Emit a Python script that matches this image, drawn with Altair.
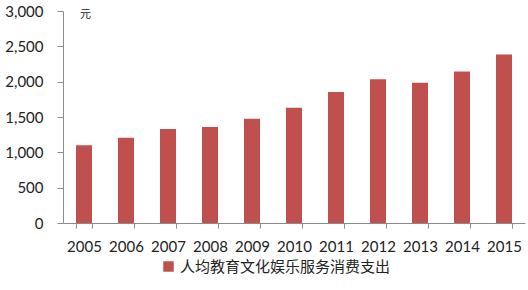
import altair as alt
import pandas as pd

years = ["2005", "2006", "2007", "2008", "2009", "2010", "2011", "2012", "2013", "2014", "2015"]
values = [1100, 1205, 1330, 1360, 1475, 1630, 1855, 2035, 1985, 2145, 2385]
series_name = "人均教育文化娱乐服务消费支出"

df = pd.DataFrame({"year": years, "value": values, "series": [series_name] * len(years)})

chart = alt.Chart(df).mark_bar(size=16, color="#C0504D").encode(
    x=alt.X("year:N", sort=years,
            scale=alt.Scale(paddingInner=0.62, paddingOuter=0.31),
            axis=alt.Axis(title=None, labelAngle=0, tickBand="extent", tickSize=5,
                          labelPadding=11, labelFont="Lato", labelFontSize=15,
                          labelColor="#222222", domainColor="#8c8c8c", tickColor="#8c8c8c")),
    y=alt.Y("value:Q", scale=alt.Scale(domain=[0, 3000]),
            axis=alt.Axis(values=[0, 500, 1000, 1500, 2000, 2500, 3000], format=",.0f",
                          grid=False, tickSize=6, labelPadding=14, labelFont="Lato",
                          labelFontSize=15, labelColor="#222222", domainColor="#8c8c8c",
                          tickColor="#8c8c8c", title="元", titleAngle=0, titleX=22, titleY=8,
                          titleFont="Noto Sans CJK SC", titleFontSize=11, titleFontWeight="normal",
                          titleColor="#222222", titleAlign="center")),
    color=alt.Color("series:N", scale=alt.Scale(range=["#C0504D"]),
                    legend=alt.Legend(title=None, orient="none", legendX=98, legendY=248,
                                      symbolType="square", symbolSize=110, symbolStrokeWidth=0,
                                      labelFont="Noto Sans CJK SC", labelFontSize=15,
                                      labelLimit=400,
                                      labelColor="#222222", labelOffset=4)),
).properties(
    width=462, height=212,
    autosize=alt.AutoSizeParams(type="none"),
    padding={"left": 63, "top": 11, "right": 3, "bottom": 67},
).configure(background="white", view={"stroke": None})

chart.save("out.html", embed_options={"renderer": "svg", "actions": False})
